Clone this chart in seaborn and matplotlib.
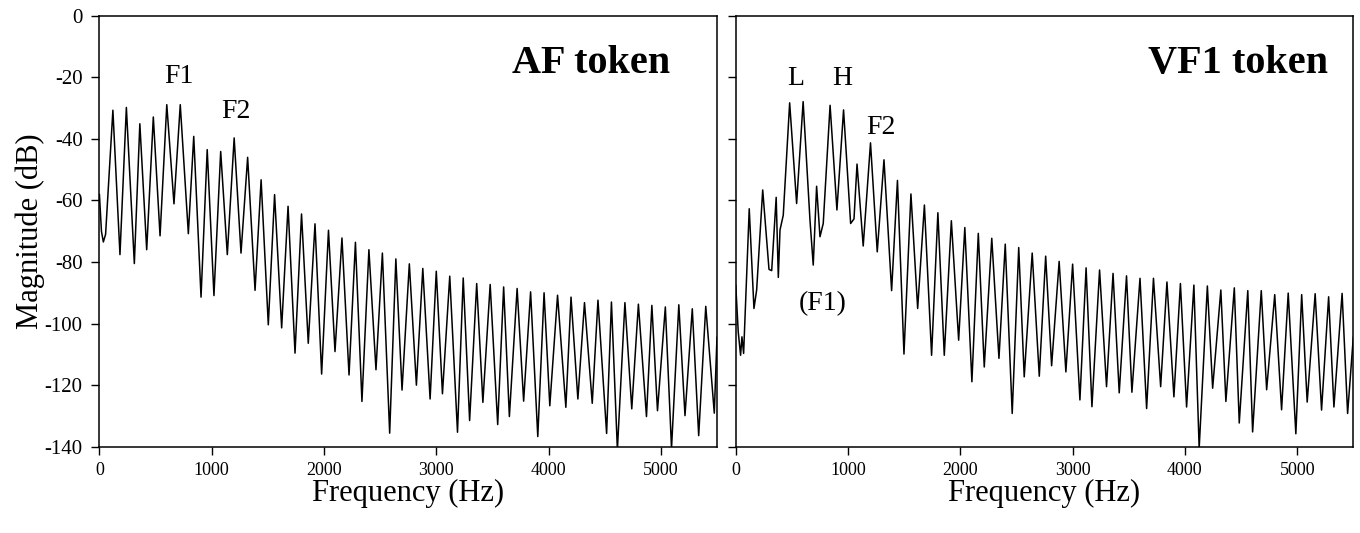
import matplotlib
matplotlib.use('Agg')
import matplotlib.pyplot as plt
import seaborn as sns

# turning points (peaks / troughs) of the two spectra
af_freq = [0, 18, 35, 55, 120, 183, 240, 311, 360, 421, 480, 540, 600, 664, 720, 792,
           840, 905, 960, 1020, 1080, 1139, 1200, 1261, 1320, 1386, 1440, 1504, 1560, 1623,
           1680, 1742, 1800, 1860, 1920, 1979, 2040, 2098, 2160, 2223, 2280, 2338, 2400, 2463,
           2520, 2585, 2640, 2695, 2760, 2823, 2880, 2945, 3000, 3055, 3120, 3189, 3240, 3297,
           3360, 3415, 3480, 3547, 3600, 3651, 3720, 3778, 3840, 3904, 3960, 4011, 4080, 4154,
           4200, 4261, 4320, 4389, 4440, 4517, 4560, 4613, 4680, 4741, 4800, 4872, 4920, 4970,
           5040, 5095, 5160, 5215, 5280, 5337, 5400, 5476, 5500]
af_db = [-58, -70, -73.5, -71, -30.7, -77.6, -29.8, -80.5, -35.1, -76, -32.9, -71.5, -28.9, -61.1,
         -28.9, -70.8, -39.2, -91.4, -43.5, -90.9, -44.1, -77.6, -39.7, -77.1, -46, -89.2, -53.3,
         -100.4, -58.1, -101.4, -61.9, -109.6, -64.4, -106.4, -67.6, -116.4, -69.7, -109.1, -72.2,
         -116.7, -73.6, -125.3, -76, -115, -77.1, -135.6, -79, -121.6, -80.6, -120, -82.1, -124.5,
         -83, -122.8, -84.6, -135.3, -85.2, -131.5, -87, -125.6, -87.3, -132.8, -88.1, -130.2,
         -88.6, -125.2, -89.7, -136.7, -90, -126.7, -90.8, -127.2, -91.4, -124.5, -93.2, -125.9,
         -92.4, -135.7, -93, -141, -93.2, -127.7, -93.7, -130.2, -94.1, -128.3, -94.6, -140.5,
         -93.9, -129.9, -95.2, -136.4, -94.4, -129.1, -104.4]

vf_freq = [0, 22, 43, 55, 70, 120, 162, 186, 240, 296, 320, 360, 379, 394, 423, 480, 542, 600,
           661, 690, 720, 750, 779, 840, 901, 960, 1023, 1053, 1080, 1135, 1200, 1260, 1320, 1388,
           1440, 1498, 1560, 1620, 1680, 1744, 1800, 1857, 1920, 1985, 2040, 2103, 2160, 2213,
           2280, 2344, 2400, 2462, 2520, 2569, 2640, 2703, 2760, 2813, 2880, 2940, 3000, 3065,
           3120, 3172, 3240, 3302, 3360, 3415, 3480, 3528, 3600, 3659, 3720, 3784, 3840, 3902,
           3960, 4015, 4080, 4127, 4200, 4247, 4320, 4365, 4440, 4484, 4560, 4603, 4680, 4728,
           4800, 4861, 4920, 4988, 5040, 5089, 5160, 5217, 5280, 5327, 5400, 5449, 5500]
vf_db = [-87.5, -102.7, -110.3, -104.3, -109.7, -62.7, -95.1, -89.1, -56.6, -82.4, -82.8, -59,
         -85, -69.6, -64.8, -28.3, -61, -27.9, -66.4, -81, -55.4, -71.8, -67.5, -29.1, -63.1,
         -30.6, -67.5, -66, -48.2, -74.8, -41.3, -76.7, -46.8, -89.3, -53.5, -109.9, -57.9, -95.1,
         -61.5, -110.3, -64, -110.3, -66.6, -105.4, -68.8, -118.9, -70.7, -114.1, -72.3, -111.3,
         -74.2, -129.2, -75.3, -117.3, -77.1, -117.1, -78.1, -113.7, -79.8, -115.7, -80.7, -124.8,
         -81.9, -127, -82.6, -120.5, -83.7, -122.5, -84.5, -122.3, -85.3, -127.6, -85.3, -120.5,
         -86.5, -123.8, -87, -127.1, -87.5, -140.5, -87.8, -121, -89.1, -125.3, -88.4, -132.3,
         -89.3, -135.2, -89.3, -121.5, -90.6, -128, -90.1, -135.8, -90.6, -125.5, -90.3, -128.1,
         -91.3, -127.1, -90.2, -129.2, -104.3]

x_ticks = [0, 1000, 2000, 3000, 4000, 5000]
y_ticks = [0, -20, -40, -60, -80, -100, -120, -140]

af_labels = [("F1", 709, -21.8), ("F2", 1219, -33.3)]
vf_labels = [("L", 532, -22.5), ("H", 948, -22.5), ("F2", 1293, -38.4), ("(F1)", 772, -95.6)]

sns.set_style("ticks")
plt.rcParams['font.family'] = ['Liberation Serif', 'DejaVu Serif']
plt.rcParams['axes.unicode_minus'] = False
plt.rcParams['text.color'] = 'black'
plt.rcParams['axes.labelcolor'] = 'black'
plt.rcParams['xtick.color'] = 'black'
plt.rcParams['ytick.color'] = 'black'


def draw_panel(ax, freq, db, title, title_x, labels, show_ylabels):
    sns.lineplot(x=freq, y=db, ax=ax, color="black", linewidth=1.1, estimator=None, sort=False)
    ax.set_xlim(0, 5500)
    ax.set_ylim(-140, 0)
    ax.set_xticks(x_ticks)
    ax.set_yticks(y_ticks)
    ax.tick_params(direction="out", length=6, width=1, colors="black")
    ax.tick_params(axis="x", labelsize=13, pad=5)
    ax.tick_params(axis="y", labelsize=15, pad=6)
    for s in ax.spines.values():
        s.set_visible(True)
        s.set_color("black")
        s.set_linewidth(1.1)
    ax.set_xlabel("Frequency (Hz)", fontsize=22, labelpad=0)
    if show_ylabels:
        ax.set_ylabel("Magnitude (dB)", fontsize=22, labelpad=0)
    else:
        ax.set_yticklabels([])
        ax.set_ylabel("")
    ax.text(title_x, -18.6, title, ha="right", va="baseline", fontsize=29, fontweight="bold")
    for txt, fx, fy in labels:
        ax.text(fx, fy, txt, ha="center", va="baseline", fontsize=20)


fig = plt.figure(figsize=(13.6, 5.33), dpi=100)
ax1 = fig.add_axes([0.0731, 0.1619, 0.4541, 0.8086])
ax2 = fig.add_axes([0.5410, 0.1619, 0.4541, 0.8086])

draw_panel(ax1, af_freq, af_db, "AF token", 5080, af_labels, True)
draw_panel(ax2, vf_freq, vf_db, "VF1 token", 5273, vf_labels, False)

fig.savefig("out.png", dpi=100)
plt.close(fig)
